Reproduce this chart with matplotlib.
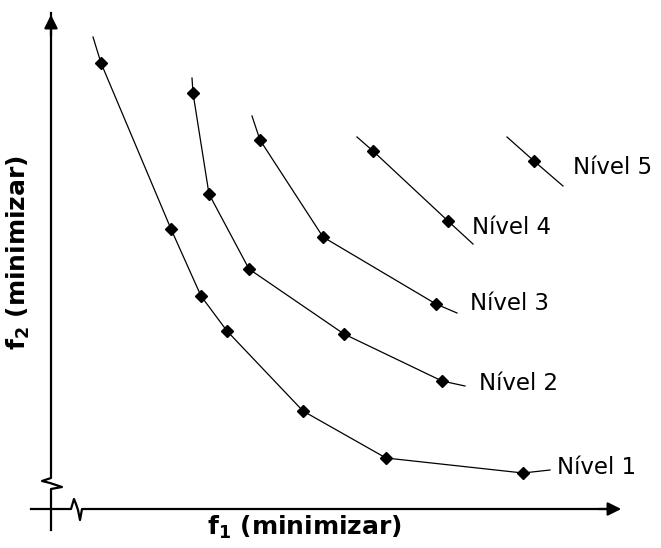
import matplotlib
matplotlib.use("Agg")
import matplotlib.pyplot as plt

# Pareto fronts (f1, f2), first and last point of each list are the line tails,
# the inner points are the marked solutions
n1_f1 = [42, 50, 120, 150, 176, 252, 335, 472, 499]
n1_f2 = [472, 446, 280, 213, 178, 98, 51, 36, 39]

n2_f1 = [141, 142, 158, 198, 293, 391, 414]
n2_f2 = [431, 416, 315, 240, 175, 128, 123]

n3_f1 = [201, 209, 272, 385, 406]
n3_f2 = [393, 369, 272, 205, 196]

n4_f1 = [306, 322, 397, 422]
n4_f2 = [372, 358, 288, 265]

n5_f1 = [456, 483, 512]
n5_f2 = [372, 348, 323]

levels = ["Nível 1", "Nível 2", "Nível 3", "Nível 4", "Nível 5"]
label_f1 = [506, 428, 419, 421, 522]
label_f2 = [42, 126, 206, 281, 341]

fig = plt.figure(figsize=(6.61, 5.48), dpi=100)
ax = fig.add_axes([0, 0, 1, 1])
ax.set_xlim(-51, 610)
ax.set_ylim(-39, 509)
ax.axis("off")

fronts = [(n1_f1, n1_f2), (n2_f1, n2_f2), (n3_f1, n3_f2), (n4_f1, n4_f2), (n5_f1, n5_f2)]
for (fx, fy), name, lx, ly in zip(fronts, levels, label_f1, label_f2):
    ax.plot(fx, fy, color="black", lw=0.9)
    ax.plot(fx[1:-1], fy[1:-1], "D", color="black", ms=6)
    ax.text(lx, ly, name, fontsize=16.5, va="center", ha="left")

# axes drawn by hand, with the break marks near the origin
ax.plot([0, 0, -9, -1, 11, 0, 0], [496, 31, 28, 26, 22, 20, -21], color="black", lw=1.6)
ax.plot([-20, 20, 23, 25, 27, 29, 31, 560], [0, 0, 10, 5, -1, -11, 0, 0], color="black", lw=1.6)
ax.annotate("", xy=(0, 497), xytext=(0, 470),
            arrowprops=dict(arrowstyle="-|>", color="black", lw=1.6, mutation_scale=20))
ax.annotate("", xy=(573, 0), xytext=(545, 0),
            arrowprops=dict(arrowstyle="-|>", color="black", lw=1.6, mutation_scale=20))

ax.text(253, -18, r"$\mathbf{f_1}$ (minimizar)", fontsize=18, fontweight="bold",
        ha="center", va="center")
ax.text(-33, 256, r"$\mathbf{f_2}$ (minimizar)", fontsize=18, fontweight="bold",
        ha="center", va="center", rotation=90)

fig.savefig("out.png", dpi=100)
